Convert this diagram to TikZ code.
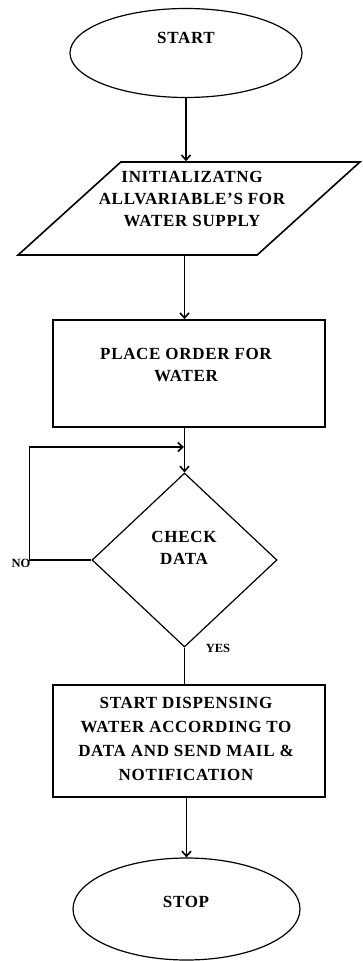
\documentclass[tikz,border=0pt]{standalone}
\usepackage{fontspec}
\setmainfont{Liberation Serif}
\newfontfamily\boxfont[LetterSpace=4]{Liberation Serif}
\usetikzlibrary{shapes.geometric, arrows.meta, calc}

\begin{document}
\begin{tikzpicture}[
    x=1pt, y=-1pt,
    terminal/.style={ellipse, draw=black, line width=1.2pt, minimum width=232pt, minimum height=89pt},
    ioshape/.style={trapezium, trapezium left angle=53, trapezium right angle=127, trapezium stretches=true, draw=black, line width=1.6pt, minimum width=342pt, minimum height=93pt},
    process/.style={rectangle, draw=black, line width=1.8pt, minimum width=272pt},
    decision/.style={diamond, draw=black, line width=1.2pt, minimum width=185pt, minimum height=174pt, inner sep=0pt},
    boxtext/.style={font=\boxfont\fontsize{17}{22}\selectfont\bfseries, align=center, inner sep=0pt},
    branch/.style={font=\fontsize{12.5}{14}\selectfont\bfseries, inner sep=0pt},
    arrow/.style={line width=1.6pt, -{Straight Barb[length=5pt, width=9pt]}},
    line/.style={line width=1.6pt}
]
    \useasboundingbox (0,0) rectangle (362,961);

    % Start
    \node[terminal] (start) at (186,53) {};
    \node[boxtext] (starttxt) at (186,38) {START};

    % Input
    \node[ioshape] (init) at (189,208.5) {};
    \node[boxtext] (inittxt) at (192,199) {INITIALIZATNG\\ALLVARIABLE’S FOR\\WATER SUPPLY};

    % Order
    \node[process, minimum height=107pt] (order) at (189,373.5) {};
    \node[boxtext] (ordertxt) at (186,365) {PLACE ORDER FOR\\WATER};

    % Decision
    \node[decision] (check) at (184.5,560) {};
    \node[boxtext] (checktxt) at (184,547.5) {CHECK\\DATA};
    \node[branch] (no) at (21,563) {NO};
    \node[branch] (yes) at (218,648) {YES};

    % Dispense
    \node[process, minimum height=112pt] (dispense) at (189,741) {};
    \node[boxtext, font=\boxfont\fontsize{17}{24}\selectfont\bfseries] (dispensetxt) at (186,738.5) {START DISPENSING\\WATER ACCORDING TO\\DATA AND SEND MAIL \&\\NOTIFICATION};

    % Stop
    \node[terminal, minimum width=227pt, minimum height=102pt] (stop) at (186.5,909) {};
    \node[boxtext] (stoptxt) at (186,902) {STOP};

    % Connectors
    \coordinate (merge) at (184,447);
    \draw[arrow] (start.south) -- (start.south |- init.north);
    \draw[arrow] (init.south -| check.north) -- (order.north -| check.north);
    \draw[arrow] (order.south -| check.north) -- (check.north);
    \draw[arrow] (check.west) -- ++(-62,0) |- (merge);
    \draw[line] (check.south) -- (dispense.north -| check.south);
    \draw[arrow] (dispense.south -| stop.north) -- (stop.north);

\end{tikzpicture}
\end{document}
